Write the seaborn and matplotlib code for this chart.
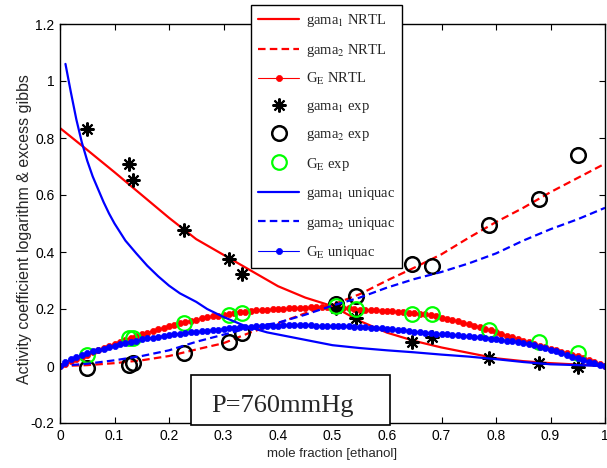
import numpy as np
import pandas as pd
import matplotlib
matplotlib.use("Agg")
import matplotlib.pyplot as plt
import seaborn as sns
from matplotlib.patches import Rectangle

# ---------------- data ----------------
x_line = [0.0, 0.05, 0.10, 0.15, 0.20, 0.25, 0.30, 0.35, 0.40, 0.45, 0.50,
          0.55, 0.60, 0.65, 0.70, 0.75, 0.80, 0.85, 0.90, 0.95, 1.0]
gama1_nrtl = [0.835, 0.758, 0.68, 0.60, 0.52, 0.445, 0.39, 0.335, 0.28, 0.24, 0.21,
              0.158, 0.117, 0.088, 0.065, 0.046, 0.027, 0.017, 0.010, 0.005, 0.0]
gama2_nrtl = [0.0, 0.003, 0.010, 0.020, 0.035, 0.058, 0.080, 0.118, 0.150, 0.185, 0.215,
              0.252, 0.300, 0.345, 0.392, 0.450, 0.505, 0.555, 0.610, 0.660, 0.710]
gama2_uniq = [0.0, 0.008, 0.020, 0.035, 0.055, 0.085, 0.110, 0.135, 0.152, 0.180, 0.212,
              0.240, 0.275, 0.305, 0.330, 0.360, 0.395, 0.440, 0.480, 0.515, 0.555]

x_g1u = [0.01, 0.015, 0.02, 0.03, 0.04, 0.05, 0.06, 0.07, 0.08, 0.09, 0.10, 0.12,
         0.14, 0.16, 0.18, 0.20, 0.22, 0.25, 0.27, 0.30, 0.34, 0.38, 0.42, 0.46,
         0.50, 0.55, 0.60, 0.65, 0.70, 0.75, 0.80, 0.85, 0.90, 0.95, 1.0]
gama1_uniq = [1.06, 1.01, 0.96, 0.865, 0.785, 0.72, 0.665, 0.62, 0.575, 0.535, 0.50, 0.44,
              0.395, 0.352, 0.315, 0.282, 0.255, 0.225, 0.200, 0.172, 0.140, 0.118, 0.103, 0.088,
              0.073, 0.063, 0.055, 0.048, 0.040, 0.033, 0.024, 0.014, 0.006, 0.003, 0.0]

x_ge = np.linspace(0.0, 1.0, 101)
ge_nrtl = [0.000, 0.008, 0.016, 0.024, 0.032, 0.040, 0.048, 0.056, 0.064, 0.071,
           0.078, 0.085, 0.092, 0.099, 0.105, 0.111, 0.117, 0.123, 0.129, 0.134,
           0.140, 0.145, 0.150, 0.155, 0.159, 0.163, 0.167, 0.171, 0.174, 0.177,
           0.180, 0.183, 0.186, 0.189, 0.191, 0.193, 0.195, 0.197, 0.198, 0.199,
           0.200, 0.201, 0.202, 0.203, 0.204, 0.205, 0.206, 0.206, 0.206, 0.206,
           0.206, 0.205, 0.204, 0.202, 0.200, 0.198, 0.197, 0.196, 0.195, 0.194,
           0.193, 0.192, 0.191, 0.189, 0.187, 0.185, 0.183, 0.181, 0.178, 0.174,
           0.170, 0.166, 0.161, 0.157, 0.152, 0.147, 0.142, 0.137, 0.131, 0.125,
           0.119, 0.113, 0.107, 0.101, 0.095, 0.089, 0.083, 0.077, 0.071, 0.066,
           0.061, 0.056, 0.050, 0.045, 0.040, 0.034, 0.028, 0.021, 0.014, 0.007,
           0.000]
ge_uniq = [0.000, 0.013, 0.025, 0.032, 0.039, 0.045, 0.051, 0.056, 0.061, 0.066,
           0.071, 0.076, 0.081, 0.085, 0.089, 0.093, 0.097, 0.100, 0.103, 0.106,
           0.109, 0.112, 0.114, 0.116, 0.118, 0.120, 0.122, 0.124, 0.126, 0.128,
           0.130, 0.132, 0.134, 0.136, 0.137, 0.138, 0.139, 0.140, 0.141, 0.142,
           0.142, 0.143, 0.143, 0.143, 0.143, 0.143, 0.143, 0.142, 0.142, 0.141,
           0.141, 0.140, 0.140, 0.139, 0.138, 0.137, 0.136, 0.135, 0.134, 0.133,
           0.131, 0.129, 0.127, 0.125, 0.123, 0.121, 0.119, 0.117, 0.115, 0.114,
           0.112, 0.111, 0.109, 0.108, 0.106, 0.104, 0.103, 0.101, 0.099, 0.096,
           0.094, 0.092, 0.089, 0.086, 0.083, 0.080, 0.076, 0.072, 0.067, 0.062,
           0.057, 0.051, 0.045, 0.039, 0.033, 0.027, 0.021, 0.015, 0.009, 0.004,
           0.000]

x_exp = [0.049, 0.126, 0.134, 0.227, 0.311, 0.334, 0.506, 0.544, 0.645, 0.683, 0.788, 0.878, 0.950]
gama1_exp = [0.832, 0.709, 0.651, 0.478, 0.374, 0.324, 0.202, 0.167, 0.085, 0.103, 0.027, 0.009, -0.002]
gama2_exp = [-0.008, 0.003, 0.009, 0.044, 0.085, 0.117, 0.219, 0.245, 0.359, 0.351, 0.494, 0.585, 0.741]
ge_exp = [0.037, 0.100, 0.097, 0.152, 0.179, 0.187, 0.210, 0.200, 0.184, 0.184, 0.128, 0.085, 0.047]

labels = ["gama$_1$ NRTL", "gama$_2$ NRTL", "G$_\\mathrm{E}$ NRTL", "gama$_1$ exp",
          "gama$_2$ exp", "G$_\\mathrm{E}$ exp", "gama$_1$ uniquac", "gama$_2$ uniquac",
          "G$_\\mathrm{E}$ uniquac"]
x_ticks = [0, 0.1, 0.2, 0.3, 0.4, 0.5, 0.6, 0.7, 0.8, 0.9, 1]
x_ticklabels = ["0", "0.1", "0.2", "0.3", "0.4", "0.5", "0.6", "0.7", "0.8", "0.9", "1"]
y_ticks = [-0.2, 0, 0.2, 0.4, 0.6, 0.8, 1.0, 1.2]
y_ticklabels = ["-0.2", "0", "0.2", "0.4", "0.6", "0.8", "1", "1.2"]

# ---------------- style ----------------
sns.set_style("ticks")
plt.rcParams["font.family"] = ["Liberation Sans", "DejaVu Sans"]
plt.rcParams["mathtext.fontset"] = "stix"
plt.rcParams["axes.linewidth"] = 1.0

RED = "#ff0000"
BLUE = "#0000ff"
GREEN = "#00ff00"
DASH = (0, (3.4, 1.9))

fig = plt.figure(figsize=(6.07, 4.68), dpi=100)
ax = fig.add_axes([60 / 607, 1 - 423 / 468, 545 / 607, 399 / 468])

sns.lineplot(x=x_line, y=gama1_nrtl, ax=ax, color=RED, lw=1.6, label=labels[0])
sns.lineplot(x=x_line, y=gama2_nrtl, ax=ax, color=RED, lw=1.6, linestyle=DASH,
             label=labels[1])
sns.lineplot(x=x_ge, y=ge_nrtl, ax=ax, color=RED, lw=0.8, marker="o", markersize=4.4,
             markeredgecolor=RED, markeredgewidth=0.5, label=labels[2])
sns.lineplot(x=x_exp, y=gama1_exp, ax=ax, color="black", linestyle="none",
             marker=(8, 2, 0), markersize=10, markeredgecolor="black",
             markeredgewidth=1.5, label=labels[3])
sns.lineplot(x=x_exp, y=gama2_exp, ax=ax, color="black", linestyle="none",
             marker="o", markersize=10.5, markerfacecolor="none",
             markeredgecolor="black", markeredgewidth=1.8, label=labels[4])
sns.lineplot(x=x_exp, y=ge_exp, ax=ax, color=GREEN, linestyle="none",
             marker="o", markersize=10.5, markerfacecolor="none",
             markeredgecolor=GREEN, markeredgewidth=1.6, label=labels[5])
sns.lineplot(x=x_g1u, y=gama1_uniq, ax=ax, color=BLUE, lw=1.6, label=labels[6])
sns.lineplot(x=x_line, y=gama2_uniq, ax=ax, color=BLUE, lw=1.6, linestyle=DASH,
             label=labels[7])
sns.lineplot(x=x_ge, y=ge_uniq, ax=ax, color=BLUE, lw=0.8, marker="o", markersize=4.4,
             markeredgecolor=BLUE, markeredgewidth=0.5, label=labels[8])

ax.set_xlim(0, 1)
ax.set_ylim(-0.2, 1.2)
ax.set_xticks(x_ticks)
ax.set_xticklabels(x_ticklabels)
ax.set_yticks(y_ticks)
ax.set_yticklabels(y_ticklabels)
ax.tick_params(direction="in", top=True, right=True, length=4, width=0.8,
               labelsize=10, colors="black", pad=4)
for s in ax.spines.values():
    s.set_visible(True)
    s.set_color("black")

ax.set_xlabel("mole fraction [ethanol]", fontsize=9.5, labelpad=4)
ax.set_ylabel("Activity coefficient logarithm & excess gibbs", fontsize=11.5)
ax.yaxis.set_label_coords(-0.051, 0.486)

leg = ax.legend(loc="upper left", bbox_to_anchor=((251 - 60) / 545, (423 - 5) / 399),
                borderaxespad=0, frameon=True, fancybox=False, framealpha=1,
                edgecolor="black", numpoints=1,
                prop={"family": ["Liberation Serif", "DejaVu Serif"], "size": 10.5},
                handlelength=2.8, handletextpad=0.45, labelspacing=0.86,
                borderpad=0.5)
leg.get_frame().set_linewidth(1.0)
leg.set_zorder(10)

# annotation box
rect = Rectangle((0.240, -0.006), 0.366, 0.126, transform=ax.transAxes,
                 facecolor="white", edgecolor="black", lw=1.2, clip_on=False, zorder=8)
ax.add_patch(rect)
ax.text(0.409, 0.028, "P=760mmHg", transform=ax.transAxes, ha="center", va="baseline",
        fontsize=19, family=["Liberation Serif", "DejaVu Serif"], zorder=9)

fig.savefig("out.png", dpi=100)
